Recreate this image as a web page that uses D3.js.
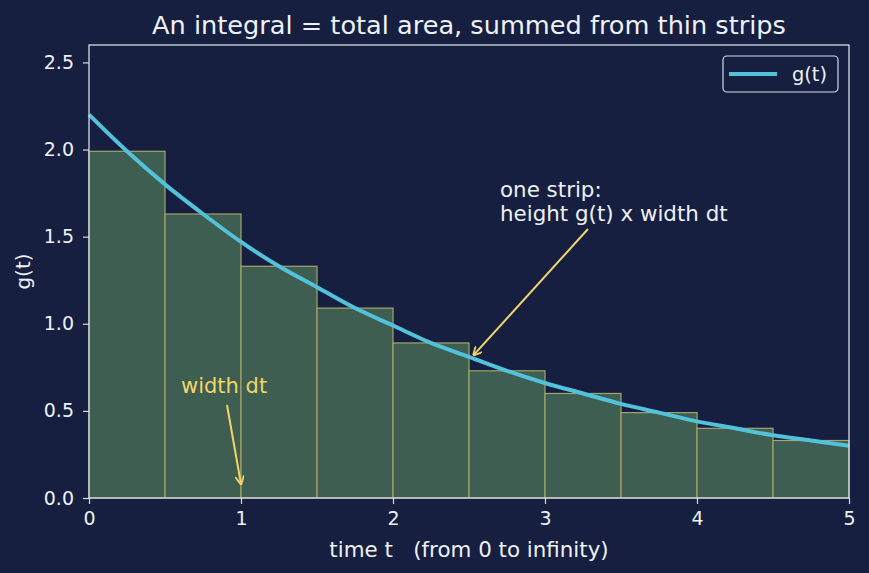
<!DOCTYPE html>
<html>
<head>
<meta charset="utf-8">
<script src="https://cdn.jsdelivr.net/npm/d3@7"></script>
<style>
  body { margin: 0; background: #161f40; }
  text { font-family: "DejaVu Sans", sans-serif; }
</style>
</head>
<body>
<svg id="chart" width="869" height="573"></svg>
<script>
// strip left edges and heights (height taken at strip midpoint)
var stripStarts = [0, 0.5, 1, 1.5, 2, 2.5, 3, 3.5, 4, 4.5];
var stripHeights = [1.99, 1.63, 1.33, 1.09, 0.89, 0.73, 0.60, 0.49, 0.40, 0.33];
var stripWidth = 0.5;

// curve samples
var curveT = [0, 0.25, 0.5, 0.75, 1, 1.25, 1.5, 1.75, 2, 2.25, 2.5, 2.75, 3, 3.25, 3.5, 3.75, 4, 4.25, 4.5, 4.75, 5];
var curveG = [2.20, 1.99, 1.80, 1.63, 1.47, 1.33, 1.21, 1.09, 0.99, 0.89, 0.81, 0.73, 0.66, 0.60, 0.54, 0.49, 0.44, 0.40, 0.36, 0.33, 0.30];

var xTicks = [0, 1, 2, 3, 4, 5];
var yTicks = [0, 0.5, 1.0, 1.5, 2.0, 2.5];

var W = 869, H = 573;
var margin = {left: 89, right: 20, top: 45, bottom: 75};

var svg = d3.select("#chart");
var fg = "#eef1f6";
var spine = "#d4dce4";

var x = d3.scaleLinear().domain([0, 5]).range([margin.left, W - margin.right]);
var y = d3.scaleLinear().domain([0, 2.6]).range([H - margin.bottom, margin.top]);

// strips
svg.append("g").selectAll("rect")
    .data(stripStarts)
    .enter().append("rect")
    .attr("x", function(d) { return x(d); })
    .attr("y", function(d, i) { return y(stripHeights[i]); })
    .attr("width", function(d) { return x(d + stripWidth) - x(d); })
    .attr("height", function(d, i) { return y(0) - y(stripHeights[i]); })
    .attr("fill", "#3d5e50")
    .attr("stroke", "#a3a56c")
    .attr("stroke-width", 1.2);

// curve
var line = d3.line()
    .x(function(d, i) { return x(curveT[i]); })
    .y(function(d) { return y(d); })
    .curve(d3.curveMonotoneX);

svg.append("path")
    .datum(curveG)
    .attr("d", line)
    .attr("fill", "none")
    .attr("stroke", "#52c1da")
    .attr("stroke-width", 4);

// axes
var xAxis = svg.append("g")
    .attr("transform", "translate(0," + y(0) + ")")
    .call(d3.axisBottom(x).tickValues(xTicks).tickFormat(d3.format("d")).tickSize(6).tickPadding(8));
var yAxis = svg.append("g")
    .attr("transform", "translate(" + x(0) + ",0)")
    .call(d3.axisLeft(y).tickValues(yTicks).tickFormat(d3.format(".1f")).tickSize(6).tickPadding(9));

[xAxis, yAxis].forEach(function(a) {
    a.select(".domain").remove();
    a.selectAll("line").attr("stroke", spine).attr("stroke-width", 1.2);
    a.selectAll("text").attr("fill", fg).style("font-size", "19px");
});

// frame
svg.append("rect")
    .attr("x", x(0)).attr("y", y(2.6))
    .attr("width", x(5) - x(0)).attr("height", y(0) - y(2.6))
    .attr("fill", "none")
    .attr("stroke", spine)
    .attr("stroke-width", 1.3);

// title & labels
svg.append("text")
    .attr("x", (x(0) + x(5)) / 2).attr("y", 34)
    .attr("text-anchor", "middle")
    .attr("fill", fg)
    .style("font-size", "25.6px")
    .text("An integral = total area, summed from thin strips");

svg.append("text")
    .attr("x", (x(0) + x(5)) / 2).attr("y", 557)
    .attr("text-anchor", "middle")
    .attr("fill", fg)
    .style("font-size", "21.4px")
    .attr("xml:space", "preserve")
    .text("time t   (from 0 to infinity)");

svg.append("text")
    .attr("transform", "translate(30," + ((y(0) + y(2.6)) / 2) + ") rotate(-90)")
    .attr("text-anchor", "middle")
    .attr("fill", fg)
    .style("font-size", "20px")
    .text("g(t)");

// arrow marker
var yellow = "#f2d46a";
svg.append("defs").append("marker")
    .attr("id", "arrow")
    .attr("viewBox", "0 0 10 10")
    .attr("refX", 9).attr("refY", 5)
    .attr("markerWidth", 9).attr("markerHeight", 9)
    .attr("markerUnits", "userSpaceOnUse")
    .attr("orient", "auto")
    .append("path")
    .attr("d", "M0,0 L10,5 L0,10")
    .attr("fill", "none")
    .attr("stroke", yellow)
    .attr("stroke-width", 2);

svg.append("line")
    .attr("x1", 227).attr("y1", 405)
    .attr("x2", x(1)).attr("y2", y(0.08))
    .attr("stroke", yellow).attr("stroke-width", 2)
    .attr("marker-end", "url(#arrow)");

svg.append("text")
    .attr("x", 181).attr("y", 393)
    .attr("fill", yellow)
    .style("font-size", "21px")
    .text("width dt");

svg.append("line")
    .attr("x1", 588).attr("y1", 229)
    .attr("x2", x(2.53)).attr("y2", y(0.82))
    .attr("stroke", yellow).attr("stroke-width", 2)
    .attr("marker-end", "url(#arrow)");

var note = svg.append("text")
    .attr("fill", fg)
    .style("font-size", "21.4px");
note.append("tspan").attr("x", 500).attr("y", 197).text("one strip:");
note.append("tspan").attr("x", 500).attr("y", 221).text("height g(t) x width dt");

// legend
var lg = svg.append("g");
lg.append("rect")
    .attr("x", 723).attr("y", 56)
    .attr("width", 115).attr("height", 36)
    .attr("rx", 4)
    .attr("fill", "#161f40")
    .attr("stroke", spine)
    .attr("stroke-width", 1.2);
lg.append("line")
    .attr("x1", 729).attr("x2", 777)
    .attr("y1", 74).attr("y2", 74)
    .attr("stroke", "#52c1da").attr("stroke-width", 4);
lg.append("text")
    .attr("x", 792).attr("y", 81)
    .attr("fill", fg)
    .style("font-size", "19.4px")
    .text("g(t)");
</script>
</body>
</html>
